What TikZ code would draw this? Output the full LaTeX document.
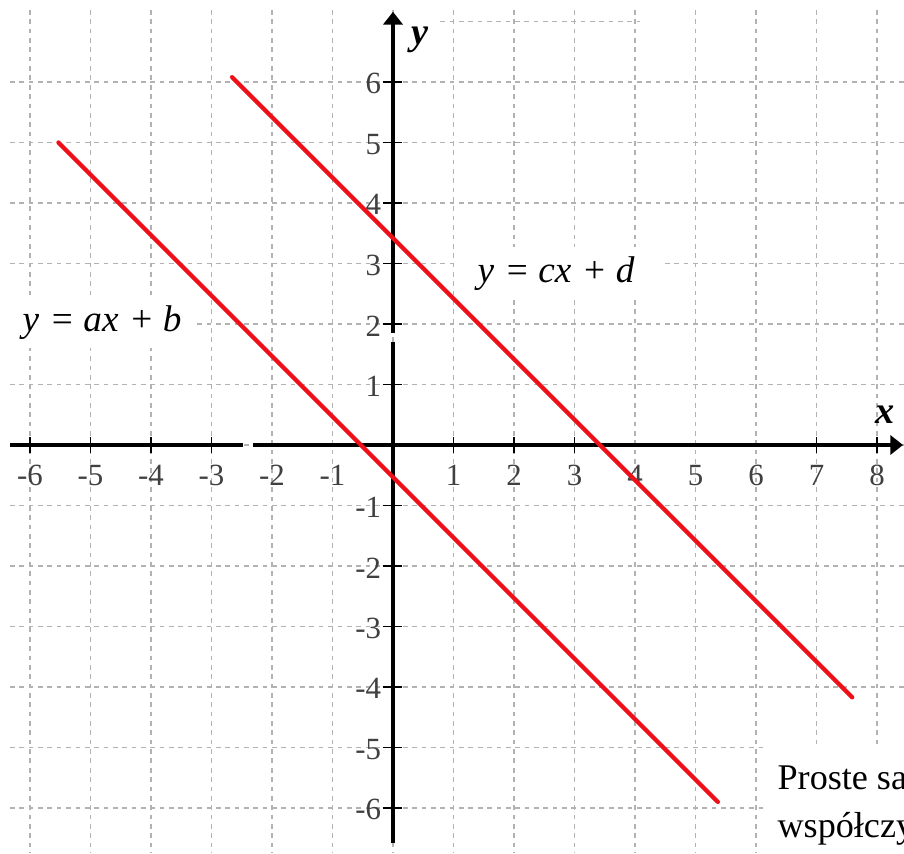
\documentclass[tikz,border=0pt]{standalone}
\usepackage{fontspec}
\setmainfont{Liberation Serif}
\usetikzlibrary{arrows.meta}
\begin{document}
\begin{tikzpicture}[x=1cm,y=1cm,
 gridline/.style={draw=black!30, line width=0.55pt, dash pattern=on 2.2pt off 2.2pt},
 axisline/.style={line width=1.5pt, black},
 tickline/.style={line width=0.9pt, black},
 redline/.style={line width=2pt, draw={rgb,255:red,236;green,16;blue,24}, line cap=round},
 ticklab/.style={font=\fontsize{14.5}{16}\selectfont, text=black!75, inner sep=0pt},
 eqlab/.style={font=\fontsize{17.5}{20}\selectfont, inner sep=0pt, anchor=base west},
 axlab/.style={font=\fontsize{18}{20}\selectfont\bfseries\itshape, inner sep=0pt},
 notelab/.style={font=\fontsize{17}{20}\selectfont, inner sep=0pt, anchor=base west},
 whitebox/.style={fill=white, draw=none}]
\useasboundingbox (-6.496,-6.744) rectangle (8.446,7.355);
\clip (-6.496,-6.744) rectangle (8.446,7.355);
\fill[white] (-6.496,-6.744) rectangle (8.446,7.355);
% grid
\foreach \i in {-6,...,8} \draw[gridline] (\i,7.19) -- (\i,-6.744);
\foreach \j in {-6,...,6} \draw[gridline] (-6.33,\j) -- (8.446,\j);
\draw[gridline] (0.78,7) -- (4.08,7);
% white patches behind labels
\fill[whitebox] (-6.5,2.43) rectangle (-3.30,1.60);
\fill[whitebox] (1.07,3.27) rectangle (4.41,2.40);
\fill[whitebox] (6.18,-4.96) rectangle (8.446,-6.744);
% axes
\coordinate (xl) at (-6.33,0);
\coordinate (xg1) at (-2.48,0);
\coordinate (xg2) at (-2.31,0);
\coordinate (xr) at (8.43,0);
\coordinate (yb) at (0,-6.58);
\coordinate (yg1) at (0,1.70);
\coordinate (yg2) at (0,1.85);
\coordinate (yt) at (0,7.16);
\draw[axisline] (xl) -- (xg1);
\draw[axisline,-{Triangle[width=9pt,length=6pt]}] (xg2) -- (xr);
\draw[axisline] (yb) -- (yg1);
\draw[axisline,-{Triangle[width=9pt,length=6pt]}] (yg2) -- (yt);
% ticks
\foreach \i in {-6,-5,-4,-3,1,2,3,7,8} \draw[tickline] (\i,-0.14) -- (\i,0.14);
\foreach \j in {-6,...,-1,1,2,...,6} \draw[tickline] (-0.17,\j) -- (0.15,\j);
% tick labels
\foreach \i in {-6,...,-1,1,2,...,8} \node[ticklab] (xt\i) at (\i,-0.5) {\i};
\foreach \j in {-6,...,-1,1,2,...,6} \node[ticklab,anchor=east] (yt\j) at (-0.19,\j-0.03) {\j};
% red lines
\coordinate (a1) at (-5.53,5.00);
\coordinate (a2) at (5.37,-5.90);
\coordinate (c1) at (-2.66,6.08);
\coordinate (c2) at (7.59,-4.17);
\draw[redline] (a1) -- (a2);
\draw[redline] (c1) -- (c2);
% labels
\node[eqlab] (eq1) at (-6.13,1.87) {\textit{y}\hspace{6pt}=\hspace{5pt}\textit{ax}\hspace{6pt}+\hspace{5pt}\textit{b}};
\node[eqlab] (eq2) at (1.39,2.69) {\textit{y}\hspace{6pt}=\hspace{5pt}\textit{cx}\hspace{6pt}+\hspace{5pt}\textit{d}};
\node[axlab] (ylab) at (0.45,6.69) {y};
\node[axlab] (xlab) at (8.13,0.50) {x};
\node[notelab] (n1) at (6.35,-5.70) {Proste sa};
\node[notelab] (n2) at (6.35,-6.48) {współczy};
\end{tikzpicture}
\end{document}
